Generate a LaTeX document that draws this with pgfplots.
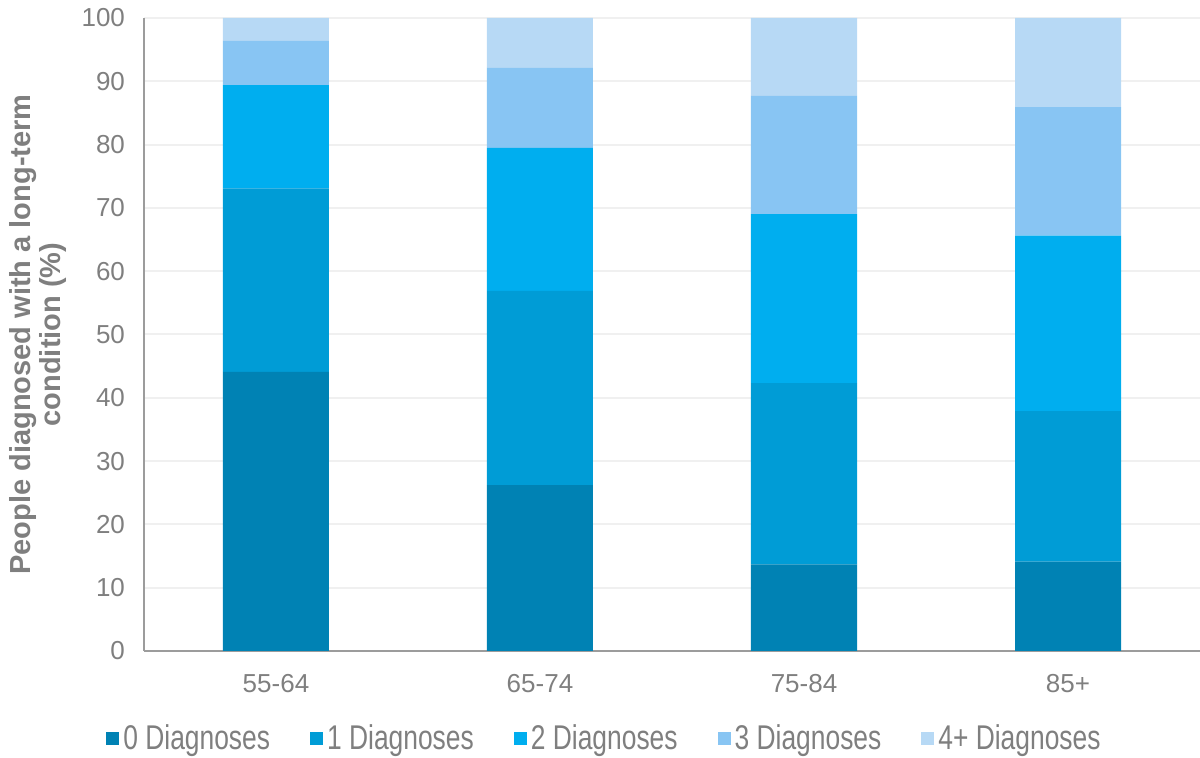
\documentclass[border=0pt]{standalone}
\usepackage{fontspec}
\setmainfont{Liberation Sans}
\usepackage{pgfplots}
\pgfplotsset{compat=1.18}
\usetikzlibrary{calc}

\definecolor{dzero}{HTML}{0082B4}
\definecolor{done}{HTML}{009CD6}
\definecolor{dtwo}{HTML}{00AEEF}
\definecolor{dthree}{HTML}{88C5F3}
\definecolor{dfour}{HTML}{B7D9F5}
\definecolor{labelc}{HTML}{7F7F7F}
\definecolor{gridc}{HTML}{F0F0F0}
\definecolor{axisc}{HTML}{9C9C9C}

% legend entries are set in a tall, narrow style
\newcommand{\tall}[1]{\scalebox{1}[1.3]{#1}}

\begin{document}
\begin{tikzpicture}
\begin{axis}[
  scale only axis, width=528pt, height=316.5pt,
  ybar stacked, bar width=53pt,
  xmin=-0.5, xmax=3.5, ymin=0, ymax=100,
  xtick={0,1,2,3}, xticklabels={55-64,65-74,75-84,85+},
  ytick={0,10,...,100},
  ymajorgrids, grid style={draw=gridc, line width=1pt},
  axis x line*=bottom, axis y line*=left,
  axis line style={draw=axisc, line width=1pt, -},
  major tick length=0pt,
  tick label style={text=labelc, font=\fontsize{13}{15}\selectfont},
  /pgf/number format/assume math mode=true,
  yticklabel style={xshift=-6pt},
  xticklabel style={yshift=-8pt},
  ylabel={People diagnosed with a long-term\\condition (\%)},
  every axis y label/.style={at={(rel axis cs:0,0.5)}, xshift=-53pt, rotate=90, anchor=center,
    align=center, text=labelc, font=\fontsize{14.5}{15}\selectfont\bfseries},
  legend columns=5,
  legend style={at={(rel axis cs:0.437,-0.138)}, anchor=center, draw=none, fill=none,
    text=labelc, font=\fontsize{13.2}{16}\selectfont,
    /tikz/every even column/.append style={column sep=18pt}},
  legend image code/.code={\fill[#1,draw=none] (0pt,-3.25pt) rectangle (6.5pt,3.25pt);},
  every axis plot/.append style={draw=none},
]
\addplot[fill=dzero] coordinates {(0,44.1) (1,26.2) (2,13.7) (3,14.1)};
\addplot[fill=done] coordinates {(0,29.0) (1,30.7) (2,28.6) (3,23.8)};
\addplot[fill=dtwo] coordinates {(0,16.3) (1,22.6) (2,26.7) (3,27.7)};
\addplot[fill=dthree] coordinates {(0,7.0) (1,12.6) (2,18.7) (3,20.3)};
\addplot[fill=dfour] coordinates {(0,3.6) (1,7.9) (2,12.3) (3,14.1)};
\legend{\tall{0 Diagnoses},\tall{1 Diagnoses},\tall{2 Diagnoses},\tall{3 Diagnoses},\tall{4+ Diagnoses}}
\coordinate (ll) at (rel axis cs:0,0);
\coordinate (ur) at (rel axis cs:1,1);
\end{axis}
\pgfresetboundingbox
\path ($(ll)+(-72pt,-53.5pt)$) rectangle ($(ur)+(0pt,9pt)$);
\end{tikzpicture}
\end{document}
